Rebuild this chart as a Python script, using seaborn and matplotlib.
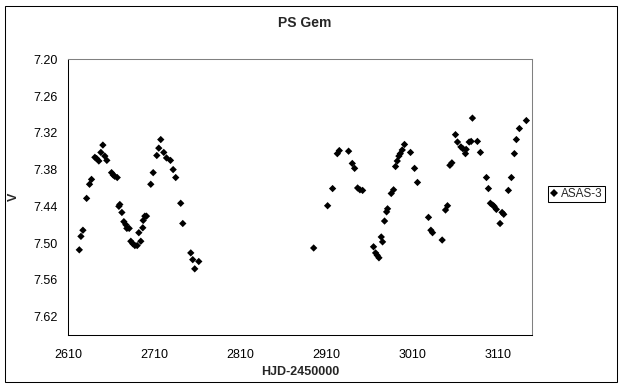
import matplotlib
matplotlib.use("Agg")
import matplotlib.pyplot as plt
import seaborn as sns
import pandas as pd
import numpy as np
from matplotlib.patches import Rectangle

# ---- data ----
hjd = [2622.8, 2624.7, 2627.0, 2631.3, 2634.7, 2637.0, 2640.9, 2642.9, 2645.5, 2647.9,
       2650.2, 2652.5, 2654.8, 2660.3, 2662.3, 2664.1, 2666.9, 2668.8, 2669.9, 2672.3,
       2674.6, 2676.9, 2678.1, 2680.8, 2682.7, 2685.0, 2687.4, 2690.1, 2692.0, 2694.3,
       2696.6, 2697.1, 2699.0, 2700.9, 2705.9, 2708.7, 2712.9, 2715.2, 2717.5, 2721.0,
       2724.2, 2728.8, 2731.9, 2734.9, 2740.7, 2743.1, 2752.4, 2754.7, 2757.0, 2761.7,
       2895.3, 2911.5, 2917.3, 2922.8, 2925.1, 2935.9, 2940.2, 2942.9, 2946.4, 2949.1,
       2952.2, 2964.9, 2967.3, 2969.2, 2971.2, 2973.9, 2975.4, 2977.7, 2980.1, 2981.2,
       2985.5, 2988.2, 2990.5, 2992.5, 2994.4, 2996.0, 2998.3, 3000.9, 3007.9, 3012.6,
       3016.0,
       3028.8, 3031.6, 3033.5, 3044.7, 3048.6, 3050.9, 3053.7, 3056.0, 3060.2, 3062.5,
       3066.5, 3068.8, 3071.8, 3072.6, 3076.1, 3078.4, 3079.9, 3085.7, 3089.2, 3096.2,
       3098.5, 3100.8, 3103.5, 3105.1, 3107.7, 3112.0, 3114.4, 3116.3, 3121.7, 3125.2,
       3128.7, 3131.0, 3134.5, 3142.6]
v_mag = [7.511, 7.489, 7.479, 7.427, 7.404, 7.396, 7.360, 7.362, 7.366, 7.352,
         7.340, 7.358, 7.365, 7.385, 7.389, 7.391, 7.393, 7.440, 7.437, 7.450,
         7.465, 7.470, 7.476, 7.476, 7.497, 7.501, 7.504, 7.504, 7.483, 7.497,
         7.475, 7.463, 7.456, 7.456, 7.404, 7.385, 7.357, 7.345, 7.331, 7.352,
         7.361, 7.365, 7.380, 7.393, 7.435, 7.468, 7.516, 7.527, 7.542, 7.530,
         7.508, 7.439, 7.411, 7.354, 7.349, 7.350, 7.370, 7.378, 7.410, 7.413,
         7.414, 7.506, 7.516, 7.520, 7.524, 7.490, 7.498, 7.464, 7.449, 7.444,
         7.419, 7.413, 7.375, 7.366, 7.358, 7.354, 7.348, 7.339, 7.352, 7.378,
         7.401,
         7.458, 7.479, 7.483, 7.495, 7.446, 7.439, 7.373, 7.369, 7.323, 7.335,
         7.343, 7.346, 7.354, 7.347, 7.335, 7.334, 7.296, 7.334, 7.352, 7.393,
         7.411, 7.435, 7.438, 7.440, 7.445, 7.468, 7.450, 7.453, 7.414, 7.393,
         7.354, 7.331, 7.313, 7.300]
series_name = "ASAS-3"
x_ticks = [2610, 2710, 2810, 2910, 3010, 3110]
y_ticks = [7.20, 7.26, 7.32, 7.38, 7.44, 7.50, 7.56, 7.62]

df = pd.DataFrame({"HJD": hjd, "V": v_mag, "series": series_name})

sns.set_style("white")
plt.rcParams["font.family"] = ["Liberation Sans", "DejaVu Sans"]

W, H = 624, 388
fig = plt.figure(figsize=(W / 100, H / 100), dpi=100)
L, R, T, B = 68.3, 532.3, 59.3, 335.0
ax = fig.add_axes([L / W, 1 - B / H, (R - L) / W, (B - T) / H])

sns.scatterplot(data=df, x="HJD", y="V", hue="series", palette=["black"],
                marker="D", s=14, linewidth=0, ax=ax, legend=True)

ax.set_xlim(2610, 3149.5)
ax.set_ylim(7.65, 7.20)
ax.set_xticks(x_ticks)
ax.set_xticklabels([str(t) for t in x_ticks])
ax.set_yticks(y_ticks)
ax.set_yticklabels([f"{t:.2f}" for t in y_ticks])
ax.tick_params(axis="both", direction="inout", length=4.3, width=0.72,
               color="black", labelsize=9, labelcolor="black")
ax.tick_params(axis="x", pad=8)
ax.tick_params(axis="y", pad=5.5)

for side in ["left", "bottom"]:
    ax.spines[side].set_color("black")
    ax.spines[side].set_linewidth(0.75)
for side in ["top", "right"]:
    ax.spines[side].set_color("#808080")
    ax.spines[side].set_linewidth(0.75)

ax.set_xlabel("HJD-2450000", fontsize=9, fontweight="bold")
ax.xaxis.set_label_coords((300 - L) / (R - L), (B - 366) / (B - T))
ax.set_ylabel("V", fontsize=9, fontweight="bold")
ax.yaxis.set_label_coords((20 - L) / (R - L), (B - 196.7) / (B - T))

ax.set_title("PS Gem", fontsize=10, fontweight="bold",
             x=(305 - L) / (R - L), y=(B - 26.7) / (B - T), pad=0)

handles, labels = ax.get_legend_handles_labels()
leg = ax.legend(handles, [series_name], loc="center",
                bbox_to_anchor=(576.5 / W, 1 - 194 / H),
                bbox_transform=fig.transFigure, fontsize=8.5,
                frameon=True, fancybox=False, framealpha=1,
                edgecolor="black", borderpad=0.2, handlelength=0.6,
                handletextpad=0.3, borderaxespad=0, markerscale=1.0)
leg.get_frame().set_linewidth(0.75)

fig.patches.append(Rectangle((5.3 / W, 1 - 382.3 / H),
                             (617.3 - 5.3) / W, (382.3 - 5.7) / H,
                             transform=fig.transFigure, fill=False,
                             edgecolor="black", linewidth=0.75))

fig.savefig("out.png", dpi=100)
